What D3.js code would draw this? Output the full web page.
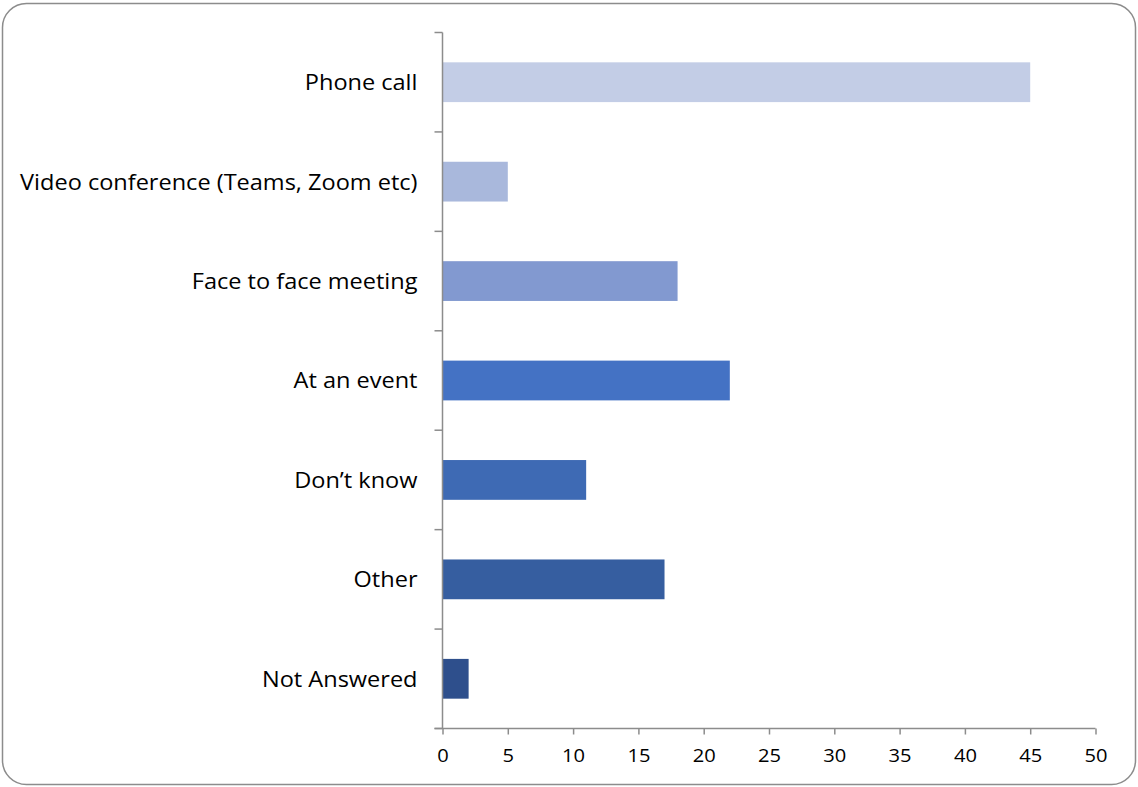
<!DOCTYPE html>
<html>
<head>
<meta charset="utf-8">
<script src="https://cdn.jsdelivr.net/npm/d3@7"></script>
<style>
  html, body { margin: 0; padding: 0; background: #fff; }
  svg { display: block; }
  text { font-family: "Open Sans", Lato, sans-serif; fill: #000; }
</style>
</head>
<body>
<svg id="chart" width="1138" height="787"></svg>
<script>
const categories = ["Phone call", "Video conference (Teams, Zoom etc)", "Face to face meeting", "At an event", "Don\u2019t know", "Other", "Not Answered"];
const values = [45, 5, 18, 22, 11, 17, 2];
const barColors = ["#c3cde6", "#a9b8dc", "#8299d0", "#4472c4", "#3e6ab4", "#365ea0", "#2e4f8c"];
const xTicks = [0, 5, 10, 15, 20, 25, 30, 35, 40, 45, 50];

const svg = d3.select("#chart");
const W = 1138, H = 787;

// Rounded frame around the chart
svg.append("rect")
  .attr("x", 2.5).attr("y", 3.5)
  .attr("width", W - 5).attr("height", H - 6)
  .attr("rx", 24).attr("ry", 24)
  .attr("fill", "#fff").attr("stroke", "#8c8c8c").attr("stroke-width", 1.5);

const plotLeft = 442.5, plotRight = 1095.5, plotTop = 32.5, plotBottom = 728.5;

const x = d3.scaleLinear().domain([0, 50]).range([plotLeft, plotRight]);
const y = d3.scaleBand().domain(categories).range([plotTop, plotBottom]).paddingInner(0.6).paddingOuter(0.3);

// Bars
svg.append("g").selectAll("rect")
  .data(categories)
  .join("rect")
  .attr("x", x(0))
  .attr("y", d => y(d))
  .attr("width", (d, i) => x(values[i]) - x(0))
  .attr("height", y.bandwidth())
  .attr("fill", (d, i) => barColors[i]);

// Category axis: ticks sit between bands
const step = (plotBottom - plotTop) / categories.length;
const gy = svg.append("g");
gy.append("line").attr("x1", plotLeft).attr("x2", plotLeft).attr("y1", plotTop).attr("y2", plotBottom)
  .attr("stroke", "#8c8c8c").attr("stroke-width", 1.5);
gy.selectAll("line.tick")
  .data(d3.range(categories.length + 1))
  .join("line").attr("class", "tick")
  .attr("x1", plotLeft - 8).attr("x2", plotLeft)
  .attr("y1", i => plotTop + i * step).attr("y2", i => plotTop + i * step)
  .attr("stroke", "#8c8c8c").attr("stroke-width", 1.5);
// Category labels, slightly widened horizontally
gy.selectAll("text")
  .data(categories)
  .join("text")
  .attr("transform", d => `translate(${plotLeft - 25},${y(d) + y.bandwidth() / 2}) scale(1.07,1)`)
  .attr("dy", "0.36em")
  .attr("text-anchor", "end")
  .attr("font-size", 22)
  .text(d => d);

// Value axis
const gx = svg.append("g").attr("transform", `translate(0,${plotBottom})`)
  .call(d3.axisBottom(x).tickValues(xTicks).tickSize(6).tickSizeOuter(0).tickPadding(14));
gx.select(".domain").attr("stroke", "#8c8c8c").attr("stroke-width", 1.5);
gx.selectAll(".tick line").attr("stroke", "#8c8c8c").attr("stroke-width", 1.5);
gx.selectAll(".tick text")
  .attr("font-size", 19)
  .attr("font-family", "'Open Sans', Lato, sans-serif")
  .attr("fill", "#000")
  .attr("transform", "scale(1.06,1)");
gx.select(".domain").attr("d", `M${plotLeft - 8},0H${plotRight}`);
</script>
</body>
</html>
